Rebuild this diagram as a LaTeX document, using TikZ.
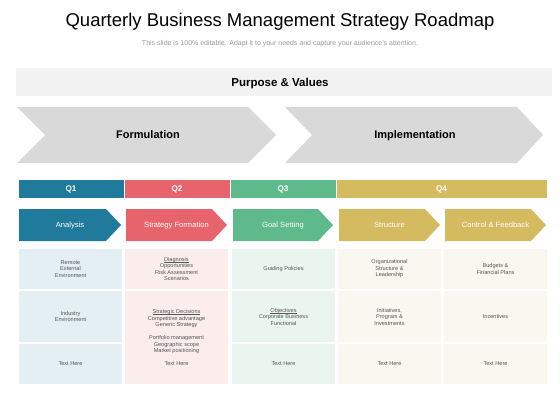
\documentclass[tikz,border=0pt]{standalone}
\usepackage{fontspec}
\setmainfont{Liberation Sans}
\newcommand\myfs[2]{\fontsize{#1}{#2}\selectfont}
\newcommand\myul[1]{\setbox0\hbox{#1}\rlap{\rule[-0.8pt]{\wd0}{0.3pt}}\box0}
\definecolor{qblue}{HTML}{1F7A9C}
\definecolor{qred}{HTML}{E8646C}
\definecolor{qgreen}{HTML}{5EB98B}
\definecolor{qgold}{HTML}{D5BB60}
\definecolor{chev}{HTML}{D9D9D9}
\definecolor{band}{HTML}{F2F2F2}
\definecolor{cblue}{HTML}{E3EFF2}
\definecolor{cred}{HTML}{FCEDED}
\definecolor{cgreen}{HTML}{EBF5F0}
\definecolor{cgold}{HTML}{F9F7EF}
\definecolor{celltext}{HTML}{555555}
\definecolor{subgray}{HTML}{9A9A9A}
\begin{document}
\begin{tikzpicture}[x=1pt,y=-1pt,
  txt/.style={inner sep=0pt, align=center},
  titletxt/.style={txt, anchor=base, font=\myfs{18.5}{22}},
  subtxt/.style={txt, anchor=base, text=subgray, font=\myfs{7}{8}},
  headtxt/.style={txt, anchor=base, font=\bfseries\myfs{11.5}{13}},
  qtxt/.style={txt, anchor=base, text=white, font=\bfseries\myfs{8.2}{10}},
  arrtxt/.style={txt, anchor=base, text=white, font=\myfs{7.6}{9}},
  celltxt/.style={txt, text=celltext, font=\myfs{5.6}{6.5}},
  qbar/.style={draw=white, line width=0.6pt}]
\fill[white] (0,0) rectangle (560,420);
\useasboundingbox (0,0) rectangle (560,420);

% title
\node[titletxt] (title) at (280,27) {Quarterly Business Management Strategy Roadmap};
\node[subtxt] (sub) at (280,45.5) {This slide is 100\% editable. Adapt it to your needs and capture your audience's attention.};

% purpose band
\fill[band] (16,68) rectangle (552,96);
\node[headtxt] (purpose) at (280,86.2) {Purpose \& Values};

% chevrons
\fill[chev] (17,107) -- (248,107) -- (276,135) -- (248,163) -- (17,163) -- (45,135) -- cycle;
\fill[chev] (285,107) -- (517,107) -- (543,135) -- (517,163) -- (285,163) -- (312,135) -- cycle;
\node[headtxt, font=\bfseries\myfs{11}{13}] (form) at (148,139) {Formulation};
\node[headtxt, font=\bfseries\myfs{11}{13}] (impl) at (415,139) {Implementation};

% quarter bar
\fill[qblue, qbar] (18,179) rectangle (124,198);
\fill[qred, qbar] (124,179) rectangle (230,198);
\fill[qgreen, qbar] (230,179) rectangle (336,198);
\fill[qgold, qbar] (336,179) rectangle (547,198);
\node[qtxt] (q1) at (71,191.4) {Q1};
\node[qtxt] (q2) at (177,191.4) {Q2};
\node[qtxt] (q3) at (283,191.4) {Q3};
\node[qtxt] (q4) at (441.5,191.4) {Q4};

% step arrows
\fill[qblue] (19,209) -- (106,209) -- (121,225) -- (106,241) -- (19,241) -- cycle;
\fill[qred] (126,209) -- (212,209) -- (227,225) -- (212,241) -- (126,241) -- cycle;
\fill[qgreen] (233,209) -- (318,209) -- (333,225) -- (318,241) -- (233,241) -- cycle;
\fill[qgold] (339,209) -- (425,209) -- (440,225) -- (425,241) -- (339,241) -- cycle;
\fill[qgold] (445,209) -- (531,209) -- (546,225) -- (531,241) -- (445,241) -- cycle;
\node[arrtxt] (a1) at (70,227.7) {Analysis};
\node[arrtxt] (a2) at (176.5,227.7) {Strategy Formation};
\node[arrtxt] (a3) at (283,227.7) {Goal Setting};
\node[arrtxt] (a4) at (389.5,227.7) {Structure};
\node[arrtxt] (a5) at (495.5,227.7) {Control \& Feedback};

% cells
\fill[cblue] (19,249) rectangle (122,289);
\fill[cblue] (19,291) rectangle (122,342);
\fill[cblue] (19,344) rectangle (122,384);
\fill[cred] (125,249) rectangle (228,289);
\fill[cred] (125,291) rectangle (228,384);
\fill[cgreen] (232,249) rectangle (335,289);
\fill[cgreen] (232,291) rectangle (335,342);
\fill[cgreen] (232,344) rectangle (335,384);
\fill[cgold] (338,249) rectangle (441,289);
\fill[cgold] (338,291) rectangle (441,342);
\fill[cgold] (338,344) rectangle (441,384);
\fill[cgold] (444,249) rectangle (547,289);
\fill[cgold] (444,291) rectangle (547,342);
\fill[cgold] (444,344) rectangle (547,384);

\node[celltxt] (t11) at (70.5,269) {Remote\\External\\Environment};
\node[celltxt] (t12) at (70.5,316.5) {Industry\\Environment};
\node[celltxt] (t13) at (70.5,364) {Text Here};
\node[celltxt] (t21) at (176.5,269) {\myul{Diagnosis}\\Opportunities\\Risk Assessment\\Scenarios};
\node[celltxt] (t22) at (176.5,337.5) {\myul{Strategic Decisions}\\Competitive advantage\\Generic Strategy\\[6.5pt]Portfolio management\\Geographic scope\\Market positioning\\[6.5pt]Text Here};
\node[celltxt] (t31) at (283.5,269) {Guiding Policies};
\node[celltxt] (t32) at (283.5,316.5) {\myul{Objectives}\\Corporate Business\\Functional};
\node[celltxt] (t33) at (283.5,364) {Text Here};
\node[celltxt] (t41) at (389.5,269) {Organizational\\Structure \&\\Leadership};
\node[celltxt] (t42) at (389.5,316.5) {Initiatives,\\Program \&\\Investments};
\node[celltxt] (t43) at (389.5,364) {Text Here};
\node[celltxt] (t51) at (495.5,269) {Budgets \&\\Financial Plans};
\node[celltxt] (t52) at (495.5,316.5) {Incentives};
\node[celltxt] (t53) at (495.5,364) {Text Here};
\end{tikzpicture}
\end{document}
